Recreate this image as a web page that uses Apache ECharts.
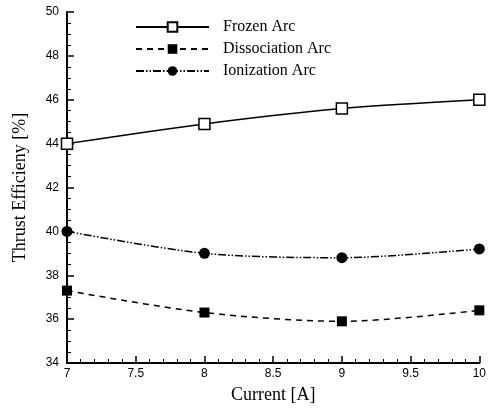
<!DOCTYPE html>
<html><head><meta charset="utf-8">
<script src="https://cdn.jsdelivr.net/npm/echarts@6/dist/echarts.min.js"></script>
<style>html,body{margin:0;padding:0;background:#fff}#c{width:489px;height:409px}</style>
</head><body><div id="c"></div>
<script>
const currents = [7, 8, 9, 10];
const frozenArc = [44.0, 44.9, 45.6, 46.0];
const dissociationArc = [37.3, 36.3, 35.9, 36.4];
const ionizationArc = [40.0, 39.0, 38.8, 39.2];
const seriesNames = ['Frozen Arc', 'Dissociation Arc', 'Ionization Arc'];

const pair = (ys) => currents.map((x, i) => [x, ys[i]]);
const labelFont = 'Liberation Sans Narrow, Liberation Sans, sans-serif';
const serif = 'Liberation Serif, Times New Roman, serif';

const chart = echarts.init(document.getElementById('c'), null, {renderer: 'canvas'});
chart.setOption({
  animation: false,
  backgroundColor: '#fff',
  grid: {left: 67, right: 9, top: 12, bottom: 41, containLabel: false},
  legend: {
    orient: 'vertical', left: 135, top: 19, padding: 0,
    itemWidth: 73, itemHeight: 12, itemGap: 6,
    textStyle: {fontFamily: serif, fontSize: 16, lineHeight: 12, color: '#000', padding: [0, 0, 0, 9]},
    data: seriesNames
  },
  xAxis: {
    type: 'value', min: 7, max: 10, interval: 0.5,
    name: 'Current [A]', nameLocation: 'middle', nameGap: 23,
    nameTextStyle: {fontFamily: serif, fontSize: 18, color: '#000'},
    axisLine: {show: true, onZero: false, lineStyle: {color: '#000', width: 2}},
    axisTick: {show: true, inside: true, length: 7, lineStyle: {color: '#000', width: 1.5}},
    minorTick: {show: true, splitNumber: 5, length: 4, lineStyle: {color: '#000', width: 1}},
    splitLine: {show: false},
    axisLabel: {fontFamily: labelFont, fontSize: 12, color: '#000', margin: 5}
  },
  yAxis: {
    type: 'value', min: 34, max: 50, interval: 2,
    name: 'Thrust Efficieny [%]', nameLocation: 'middle', nameGap: 38, nameRotate: 90,
    nameTextStyle: {fontFamily: serif, fontSize: 18, color: '#000'},
    axisLine: {show: true, onZero: false, lineStyle: {color: '#000', width: 2}},
    axisTick: {show: true, inside: true, length: 7, lineStyle: {color: '#000', width: 1.5}},
    minorTick: {show: true, splitNumber: 4, length: 4, lineStyle: {color: '#000', width: 1}},
    splitLine: {show: false},
    axisLabel: {fontFamily: labelFont, fontSize: 12, color: '#000', margin: 8}
  },
  series: [
    {
      name: seriesNames[0], type: 'line', data: pair(frozenArc), smooth: 0.3,
      symbol: 'rect', symbolSize: 11,
      lineStyle: {color: '#000', width: 1.5, type: 'solid'},
      itemStyle: {color: '#fff', borderColor: '#000', borderWidth: 1.5}
    },
    {
      name: seriesNames[1], type: 'line', data: pair(dissociationArc), smooth: 0.3,
      symbol: 'rect', symbolSize: 10,
      lineStyle: {color: '#000', width: 1.5, type: [6, 5]},
      itemStyle: {color: '#000', borderColor: '#000', borderWidth: 0}
    },
    {
      name: seriesNames[2], type: 'line', data: pair(ionizationArc), smooth: 0.3,
      symbol: 'circle', symbolSize: 11,
      lineStyle: {color: '#000', width: 1.5, type: [8, 2, 1.5, 2, 1.5, 2]},
      itemStyle: {color: '#000', borderColor: '#000', borderWidth: 0}
    }
  ]
});
</script></body></html>
